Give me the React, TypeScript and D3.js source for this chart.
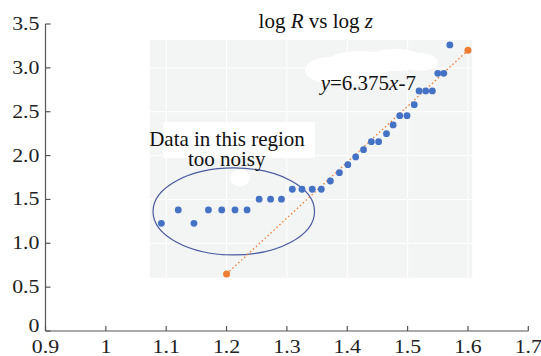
import React from "react";
import * as d3 from "d3";

const logZ = [1.092, 1.12, 1.146, 1.17, 1.192, 1.214, 1.234, 1.254, 1.273, 1.291, 1.309, 1.325, 1.342, 1.357, 1.372, 1.387, 1.401, 1.414, 1.427, 1.44, 1.452, 1.465, 1.476, 1.487, 1.499, 1.511, 1.519, 1.53, 1.541, 1.55, 1.56, 1.57];
const logR = [1.228, 1.38, 1.228, 1.38, 1.38, 1.38, 1.38, 1.503, 1.503, 1.503, 1.616, 1.616, 1.616, 1.616, 1.71, 1.805, 1.896, 1.984, 2.067, 2.158, 2.158, 2.25, 2.349, 2.455, 2.455, 2.58, 2.737, 2.737, 2.737, 2.938, 2.938, 3.261];

const fitX = [1.2, 1.6];
const fitY = [0.65, 3.2];

const xTicks = [0.9, 1.0, 1.1, 1.2, 1.3, 1.4, 1.5, 1.6, 1.7];
const xTickLabels = ["0.9", "1", "1.1", "1.2", "1.3", "1.4", "1.5", "1.6", "1.7"];
const yTicks = [0, 0.5, 1.0, 1.5, 2.0, 2.5, 3.0, 3.5];
const yTickLabels = ["0", "0.5", "1.0", "1.5", "2.0", "2.5", "3.0", "3.5"];

const bgX = [1.073, 1.607];
const bgY = [0.608, 3.318];
const gridX = [1.1, 1.2, 1.3, 1.4, 1.5, 1.6];
const gridY = [1.0, 1.5, 2.0, 2.5, 3.0];

const noisyCenter = [1.212, 1.363];
const noisyRadius = [0.1338, 0.496];

const FONT = "Tinos";

export default function App() {
  const W = 541, H = 356;
  const x = d3.scaleLinear().domain([0.9, 1.7]).range([45.5, 528.3]);
  const y = d3.scaleLinear().domain([0, 3.5]).range([331, 24]);
  const axisColor = "#555";
  const blue = "#4472c4";
  const orange = "#ed7d31";
  const ts = { fontFamily: FONT };

  const fitLine = d3.line<number>().x((d) => x(d)).y((_, i) => y(fitY[i]))(fitX) as string;

  const bx0 = x(bgX[0]), bx1 = x(bgX[1]);
  const by0 = y(bgY[1]), by1 = y(bgY[0]);

  return (
    <svg width={W} height={H} style={{ position: "absolute", left: 0, top: 0, background: "#fff" }}>
      <rect x={bx0} y={by0} width={bx1 - bx0} height={by1 - by0} fill="#f3f4f4" />
      {gridX.map((g) => (
        <line key={"gx" + g} x1={x(g)} x2={x(g)} y1={by0} y2={by1} stroke="#fff" strokeWidth={1} />
      ))}
      {gridY.map((g) => (
        <line key={"gy" + g} x1={bx0} x2={bx1} y1={y(g)} y2={y(g)} stroke="#fff" strokeWidth={1} />
      ))}

      <g fill="#fff">
        <ellipse cx={330} cy={70} rx={25} ry={13} />
        <ellipse cx={360} cy={64} rx={35} ry={13} />
        <ellipse cx={395} cy={60} rx={30} ry={11} />
        <ellipse cx={420} cy={62} rx={18} ry={9} />
        <ellipse cx={345} cy={76} rx={35} ry={8} />
        <rect x={163} y={122} width={152} height={36} />
        <ellipse cx={240} cy={178} rx={10} ry={8} />
      </g>

      <ellipse
        cx={x(noisyCenter[0])}
        cy={y(noisyCenter[1])}
        rx={x(noisyCenter[0] + noisyRadius[0]) - x(noisyCenter[0])}
        ry={y(noisyCenter[1] - noisyRadius[1]) - y(noisyCenter[1])}
        fill="none"
        stroke="#4a5aa0"
        strokeWidth={1.2}
      />

      <path d={fitLine} fill="none" stroke={orange} strokeWidth={1.3} strokeDasharray="1.5,2.5" />
      {fitX.map((fx, i) => (
        <circle key={"f" + i} cx={x(fx)} cy={y(fitY[i])} r={3.5} fill={orange} />
      ))}

      {logZ.map((zv, i) => (
        <circle key={"p" + i} cx={x(zv)} cy={y(logR[i])} r={3.4} fill={blue} />
      ))}

      <line x1={x(0.9)} x2={x(0.9)} y1={y(0)} y2={y(3.5)} stroke={axisColor} strokeWidth={1.2} />
      <line x1={x(0.9)} x2={x(1.7)} y1={y(0)} y2={y(0)} stroke={axisColor} strokeWidth={1.2} />
      {yTicks.map((t, i) => (
        <g key={"yt" + t}>
          <line x1={x(0.9)} x2={x(0.9) + 5} y1={y(t)} y2={y(t)} stroke={axisColor} strokeWidth={1.2} />
          <text
            x={0}
            y={0}
            transform={`translate(${x(0.9) - 6},${y(t) + (t === 0 ? 1 : 6)}) scale(1.15,1)`}
            textAnchor="end"
            fontSize={19}
            fill="#222"
            style={ts}
          >
            {yTickLabels[i]}
          </text>
        </g>
      ))}
      {xTicks.map((t, i) => (
        <g key={"xt" + t}>
          <line x1={x(t)} x2={x(t)} y1={y(0)} y2={y(0) - 5} stroke={axisColor} strokeWidth={1.2} />
          <text
            x={0}
            y={0}
            transform={`translate(${x(t)},${353}) scale(1.15,1)`}
            textAnchor="middle"
            fontSize={19}
            fill="#222"
            style={ts}
          >
            {xTickLabels[i]}
          </text>
        </g>
      ))}

      <text x={315.8} y={28} textAnchor="middle" fontSize={21} fill="#111" style={ts}>
        log <tspan fontStyle="italic">R</tspan> vs log <tspan fontStyle="italic">z</tspan>
      </text>

      <text x={320.7} y={90} fontSize={21} fill="#111" style={ts}>
        <tspan fontStyle="italic">y</tspan>=6.375<tspan fontStyle="italic">x</tspan>-7
      </text>
      <text x={227} y={146} textAnchor="middle" fontSize={21} fill="#111" style={ts}>
        Data in this region
      </text>
      <text x={226.7} y={166} textAnchor="middle" fontSize={21} fill="#111" style={ts}>
        too noisy
      </text>
    </svg>
  );
}
